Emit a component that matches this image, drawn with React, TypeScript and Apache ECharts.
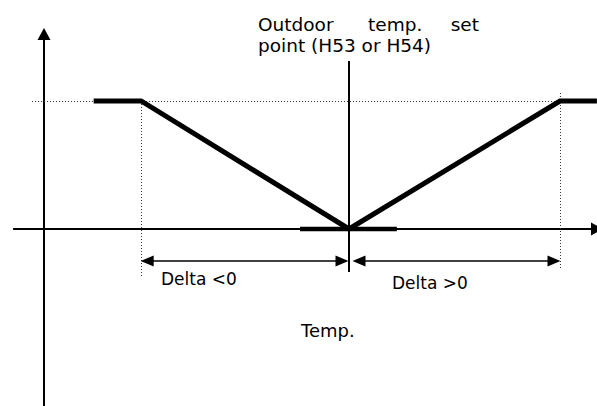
import React, { useEffect, useRef } from "react";
import * as echarts from "echarts";

// Abstract units: x = temperature offset from the outdoor set point, y = output (0..1)
const curveX = [-12.1, -9.85, 0, 10, 11.75];
const curveY = [1, 1, 0, 1, 1];
const setBarX = [-2.32, 2.27];
const deltaNeg = -9.85;
const deltaPos = 10;
const setPoint = 0;

const X_MIN = -16.54;
const X_MAX = 11.754;
const Y_MIN = -1.383;
const Y_MAX = 1.789;
const PX_X = 597 / (X_MAX - X_MIN);
const PX_Y = 406 / (Y_MAX - Y_MIN);

const yAxisX = -14.455;
const xAxisStart = -15.92;
const guideStart = -15.02;

const topLabel = ["Outdoor", "temp.", "set"];
const topLabel2 = "point (H53 or H54)";
const negLabel = "Delta <0";
const posLabel = "Delta >0";
const tempLabel = "Temp.";

export default function App() {
  const ref = useRef<HTMLDivElement>(null);
  useEffect(() => {
    if (!ref.current) return;
    const chart = echarts.init(ref.current, undefined, { renderer: "svg" });
    const ax = 6 / PX_X; // arrow inset in x units
    const ay = 6 / PX_Y;
    const dimY = -0.25;
    const font = "DejaVu Sans";
    const mk = (pts: number[][], opts: any = {}) => [
      { coord: pts[0], symbol: opts.s0 || "none" },
      { coord: pts[1], symbol: opts.s1 || "none" },
    ];
    const base = {
      type: "line",
      data: [],
      silent: true,
      symbol: "none",
    };
    const txt = (x: number, y: number, text: string, size: number, align = "left") => ({
      type: "text",
      x,
      y,
      style: { text, fill: "#000", fontFamily: font, fontSize: size, verticalAlign: "middle", align },
    });
    const option: any = {
      animation: false,
      grid: { left: 0, top: 0, right: 0, bottom: 0, containLabel: false },
      xAxis: { type: "value", min: X_MIN, max: X_MAX, show: false },
      yAxis: { type: "value", min: Y_MIN, max: Y_MAX, show: false },
      series: [
        {
          ...base,
          name: "axes",
          markLine: {
            silent: true,
            symbolSize: [13, 12],
            label: { show: false },
            lineStyle: { color: "#000", width: 2, type: "solid" },
            data: [
              mk([[yAxisX, Y_MIN], [yAxisX, Y_MAX - 28 / PX_Y - ay]], { s1: "triangle" }),
              mk([[xAxisStart, 0], [X_MAX, 0]], { s1: "triangle" }),
              mk([[setPoint, 1.3125], [setPoint, -0.336]]),
            ],
          },
        },
        {
          ...base,
          name: "guides",
          markLine: {
            silent: true,
            label: { show: false },
            lineStyle: { color: "#333", width: 1, type: [1, 2] },
            data: [
              mk([[guideStart, 1], [deltaPos, 1]]),
              mk([[deltaNeg, 1], [deltaNeg, -0.367]]),
              mk([[deltaPos, 1.0625], [deltaPos, -0.305]]),
            ],
          },
        },
        {
          ...base,
          name: "dims",
          markLine: {
            silent: true,
            symbolSize: [11, 13],
            label: { show: false },
            lineStyle: { color: "#000", width: 1.5, type: "solid" },
            data: [
              mk([[deltaNeg + ax, dimY], [setPoint - 1 / PX_X - ax, dimY]], { s0: "triangle", s1: "triangle" }),
              mk([[setPoint + 4 / PX_X + ax, dimY], [deltaPos - ax, dimY]], { s0: "triangle", s1: "triangle" }),
            ],
          },
        },
        {
          type: "line",
          name: "setbar",
          silent: true,
          symbol: "none",
          data: setBarX.map((x) => [x, 0]),
          lineStyle: { color: "#000", width: 4.5 },
          z: 5,
        },
        {
          type: "line",
          name: "curve",
          silent: true,
          symbol: "none",
          data: curveX.map((x, i) => [x, curveY[i]]),
          lineStyle: { color: "#000", width: 5, join: "miter" },
          z: 6,
        },
      ],
      graphic: [
        txt(258, 24, topLabel[0], 18.5),
        txt(368, 24, topLabel[1], 18.5),
        txt(479, 24, topLabel[2], 18.5, "right"),
        txt(258, 45.5, topLabel2, 18.5),
        txt(161, 279, negLabel, 17),
        txt(392, 283, posLabel, 17),
        txt(301, 330, tempLabel, 18),
      ],
    };
    chart.setOption(option);
    return () => chart.dispose();
  }, []);
  return (
    <div
      ref={ref}
      style={{ position: "fixed", left: 0, top: 0, width: 597, height: 406, background: "#fff" }}
    />
  );
}
